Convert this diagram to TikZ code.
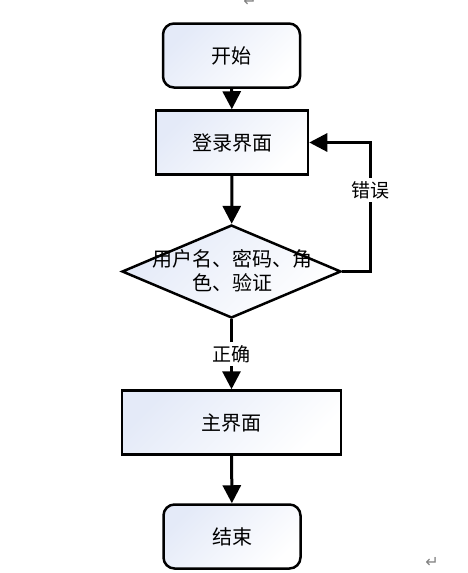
\documentclass[tikz,border=0pt]{standalone}
\usepackage{fontspec}
\setmainfont{Noto Sans CJK SC}
\newfontfamily\symfont{DejaVu Sans}
\usetikzlibrary{shapes.geometric,arrows.meta}
\definecolor{boxtint}{RGB}{228,234,248}
\tikzset{
  flowfill/.style={left color=boxtint, right color=white, shading angle=45},
  roundbox/.style={draw, line width=2.5pt, rounded corners=11pt, flowfill, minimum width=137pt, minimum height=64pt, inner sep=0pt},
  rectbox/.style={draw, line width=2.5pt, flowfill, minimum height=64pt, inner sep=0pt},
  decbox/.style={draw, line width=2.5pt, diamond, flowfill, minimum width=219pt, minimum height=93pt, inner sep=0pt},
  conn/.style={line width=3pt, -{Triangle[width=18pt,length=18pt]}},
  lbl/.style={fill=white, inner sep=3pt, font=\fontsize{19pt}{22pt}\selectfont},
  txt/.style={font=\fontsize{20pt}{24pt}\selectfont},
  retmark/.style={text=gray, font=\symfont\fontsize{16pt}{18pt}\selectfont, inner sep=0pt}
}
\begin{document}
\begin{tikzpicture}[x=1pt,y=-1pt]
\useasboundingbox (0,0) rectangle (467,573);
\node[roundbox, txt] (start) at (231.5,55.5) {开始};
\node[rectbox, txt, minimum width=152pt] (login) at (232,142.5) {登录界面};
\node[decbox] (check) at (231.5,271.5) {};
\node[txt, inner sep=0pt, align=center] (checktext) at (232,271) {用户名、密码、角\\色、验证};
\node[rectbox, txt, minimum width=219pt] (main) at (231.5,422.5) {主界面};
\node[roundbox, txt] (end) at (232,536.5) {结束};
\coordinate (loopr) at (370,271.5);
\coordinate (loopt) at (370,142.5);
\draw[conn] (start) -- (login);
\draw[conn] (login) -- (check);
\draw[conn] (check.east) -- (loopr) -- node[lbl, pos=0.63] {错误} (loopt) -- (login.east);
\draw[conn] (check.south) -- node[lbl, pos=0.5] {正确} (main.north);
\draw[conn] (main) -- (end);
\node[retmark] (m1) at (250,1) {↵};
\node[retmark] (m2) at (432,562) {↵};
\end{tikzpicture}
\end{document}
